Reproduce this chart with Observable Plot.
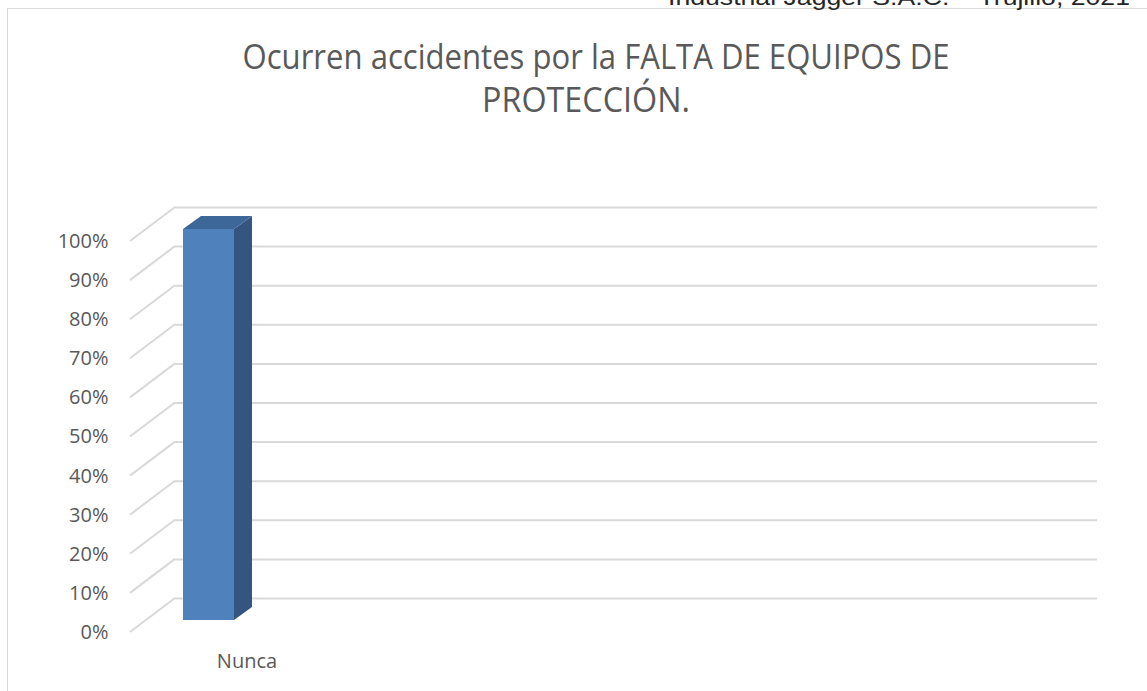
<!DOCTYPE html>
<html>
<head>
<meta charset="utf-8">
<script src="https://cdn.jsdelivr.net/npm/d3@7"></script>
<script src="https://cdn.jsdelivr.net/npm/@observablehq/plot@0.6"></script>
<style>
  html, body { margin: 0; padding: 0; background: #fff; width: 1147px; height: 691px; overflow: hidden; }
  #wrap { position: relative; width: 1147px; height: 691px; }
  #frame { position: absolute; left: 7px; top: 8px; width: 1160px; height: 700px; border: 1.5px solid #d9d9d9; box-sizing: border-box; }
  #chart { position: absolute; left: 0; top: 0; }
  #texts { position: absolute; left: 0; top: 0; }
</style>
</head>
<body>
<div id="wrap">
  <div id="frame"></div>
  <div id="chart"></div>
  <svg id="texts" width="1147" height="691">
    <text id="src" x="1130" y="5" text-anchor="end" font-family="Liberation Sans, Arial, sans-serif" font-size="22" fill="#262626" textLength="462" lengthAdjust="spacingAndGlyphs"></text>
    <text id="t1" x="596" y="69" text-anchor="middle" font-family="Open Sans, sans-serif" font-size="34" fill="#595959" textLength="707" lengthAdjust="spacingAndGlyphs"></text>
    <text id="t2" x="586" y="112" text-anchor="middle" font-family="Open Sans, sans-serif" font-size="34" fill="#595959" textLength="208" lengthAdjust="spacingAndGlyphs"></text>
  </svg>
</div>
<script>
// ---- data ----
const sourceText = "Industrial Jagger S.A.C. – Trujillo, 2021";
const titleLines = ["Ocurren accidentes por la FALTA DE EQUIPOS DE", "PROTECCIÓN."];
const categories = ["Nunca"];
const values = [100];
const yTicks = [0, 10, 20, 30, 40, 50, 60, 70, 80, 90, 100];
const tickLabels = ["0%", "10%", "20%", "30%", "40%", "50%", "60%", "70%", "80%", "90%", "100%"];

// ---- layout / style ----
const W = 1147, H = 691;
const mLeft = 175, mRight = 50, mTop = 207, mBottom = 93;
const floorDx = 45, floorDy = 34;     // 3D depth of the walls
const barFrontDy = 22;                 // bar front face offset from back wall
const barDx = 18, barDy = 13;          // bar depth
const gridColor = "#d9d9d9";
const textColor = "#595959";

document.getElementById("src").textContent = sourceText;
document.getElementById("t1").textContent = titleLines[0];
document.getElementById("t2").textContent = titleLines[1];

const data = categories.map((c, i) => ({cat: c, value: values[i]}));

const plot = Plot.plot({
  width: W,
  height: H,
  marginLeft: mLeft,
  marginRight: mRight,
  marginTop: mTop,
  marginBottom: mBottom,
  style: {fontFamily: "Open Sans, sans-serif", fontSize: "20px", color: textColor, background: "transparent", overflow: "visible"},
  x: {type: "band", domain: categories, range: [183, 234], padding: 0},
  y: {domain: [0, 100], label: null},
  marks: [
    Plot.ruleY(yTicks, {stroke: gridColor, strokeWidth: 2}),
    Plot.axisY({ticks: yTicks, tickSize: 0, tickPadding: 67, dy: floorDy, label: null,
      tickFormat: d => tickLabels[yTicks.indexOf(d)], fill: textColor}),
    Plot.axisX({tickSize: 0, tickPadding: 55, dx: 38, label: null, fill: textColor}),
    Plot.barY(data, {x: "cat", y: "value", fill: "#4f81bd", dy: barFrontDy, inset: 0})
  ]
});

const xs = plot.scale("x"), ys = plot.scale("y");
const svg = d3.select(plot);

// diagonal side-wall gridlines
const diag = svg.insert("g", ":first-child");
diag.selectAll("line").data(yTicks).join("line")
  .attr("x1", mLeft - floorDx).attr("y1", d => ys.apply(d) + floorDy)
  .attr("x2", mLeft).attr("y2", d => ys.apply(d))
  .attr("stroke", gridColor).attr("stroke-width", 2);

// 3D faces of the bars
const faces = svg.append("g");
data.forEach(d => {
  const x0 = xs.apply(d.cat), x1 = x0 + xs.bandwidth;
  const yt = ys.apply(d.value) + barFrontDy, yb = ys.apply(0) + barFrontDy;
  faces.append("path")
    .attr("d", `M${x1},${yt}L${x1 + barDx},${yt - barDy}L${x1 + barDx},${yb - barDy}L${x1},${yb}Z`)
    .attr("fill", "#34557f");
  faces.append("path")
    .attr("d", `M${x0},${yt}L${x0 + barDx},${yt - barDy}L${x1 + barDx},${yt - barDy}L${x1},${yt}Z`)
    .attr("fill", "#3d6699");
});

document.getElementById("chart").appendChild(plot);
</script>
</body>
</html>
